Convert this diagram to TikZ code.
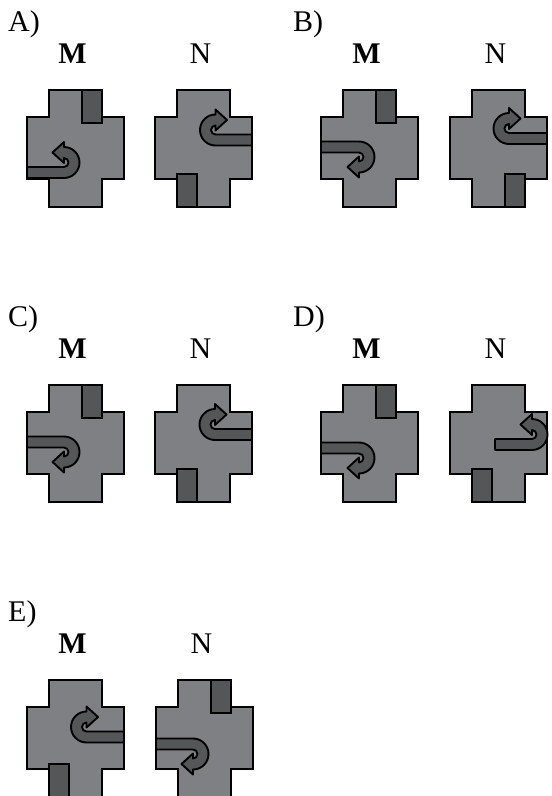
\documentclass[tikz,border=0pt]{standalone}
\usepackage{fontspec}
\setmainfont{Liberation Serif}
\definecolor{crossgray}{HTML}{7F8083}
\definecolor{blockgray}{HTML}{555658}
\tikzset{
  crossst/.style={fill=crossgray,draw=black,line width=2.3pt,line join=miter},
  blockst/.style={fill=blockgray,draw=black,line width=2pt},
  arrst/.style={fill=blockgray,draw=black,line width=1.9pt,line join=round},
  lab/.style={font=\fontsize{30}{30}\selectfont,inner sep=0pt,anchor=base west},
  mlab/.style={font=\fontsize{30}{30}\selectfont\bfseries,inner sep=0pt,anchor=base},
  nlab/.style={font=\fontsize{30}{30}\selectfont,inner sep=0pt,anchor=base},
  crossshape/.pic={
    \draw[crossst] (22,0) -- (75,0) -- (75,27) -- (97,27) -- (97,89) -- (75,89)
      -- (75,117) -- (22,117) -- (22,89) -- (0,89) -- (0,27) -- (22,27) -- cycle;
  },
  blockTR/.pic={\draw[blockst] (55,0) rectangle (75,33);},
  blockBL/.pic={\draw[blockst] (22,84) rectangle (42,117);},
  blockBR/.pic={\draw[blockst] (55,84) rectangle (75,117);},
  uturn/.pic={
    \draw[arrst] (-#1,-5.5) -- (0,-5.5) arc[start angle=-90,end angle=90,radius=15.5]
      -- (0,30.5) -- (-11.5,20) -- (0,9.5) -- (0,14.5)
      arc[start angle=90,end angle=-90,radius=4.5] -- (-#1,5.5) -- cycle;
  }
}
\begin{document}
\begin{tikzpicture}[x=1pt,y=-1pt]
\useasboundingbox (0,0) rectangle (552,796);
% ---------- A ----------
\node[lab] (la) at (8,31) {A)};
\node[mlab] (lam) at (72.5,63) {M};
\node[nlab] (lan) at (200.5,63) {N};
\pic at (27,90) {crossshape};
\pic at (27,90) {blockTR};
\pic[yscale=-1] at (64,172.5) {uturn=37};
\pic at (155,90) {crossshape};
\pic at (155,90) {blockBL};
\pic[rotate=180] at (215.5,140) {uturn=36.5};
% ---------- B ----------
\node[lab] (lb) at (293,31) {B)};
\node[mlab] (lbm) at (366.5,63) {M};
\node[nlab] (lbn) at (495.5,63) {N};
\pic at (321,90) {crossshape};
\pic at (321,90) {blockTR};
\pic at (359,147) {uturn=38};
\pic at (450,90) {crossshape};
\pic at (450,90) {blockBR};
\pic[rotate=180] at (509,138.5) {uturn=38};
% ---------- C ----------
\node[lab] (lc) at (8,326) {C)};
\node[mlab] (lcm) at (72.5,358) {M};
\node[nlab] (lcn) at (200.5,358) {N};
\pic at (27,385) {crossshape};
\pic at (27,385) {blockTR};
\pic at (64,442) {uturn=37};
\pic at (155,385) {crossshape};
\pic at (155,385) {blockBL};
\pic[rotate=180] at (215,434.5) {uturn=37};
% ---------- D ----------
\node[lab] (ld) at (293,326) {D)};
\node[mlab] (ldm) at (366.5,358) {M};
\node[nlab] (ldn) at (495.5,358) {N};
\pic at (321,385) {crossshape};
\pic at (321,385) {blockTR};
\pic at (359,448) {uturn=38};
\pic at (450,385) {crossshape};
\pic at (450,385) {blockBL};
\pic[yscale=-1] at (532,444.5) {uturn=37};
% ---------- E ----------
\node[lab] (le) at (8,621) {E)};
\node[mlab] (lem) at (72.5,653) {M};
\node[nlab] (len) at (201.5,653) {N};
\pic at (27,680) {crossshape};
\pic at (27,680) {blockBL};
\pic[rotate=180] at (86.5,737) {uturn=37.5};
\pic at (156,680) {crossshape};
\pic at (156,680) {blockTR};
\pic at (193,744) {uturn=37};
\end{tikzpicture}
\end{document}
